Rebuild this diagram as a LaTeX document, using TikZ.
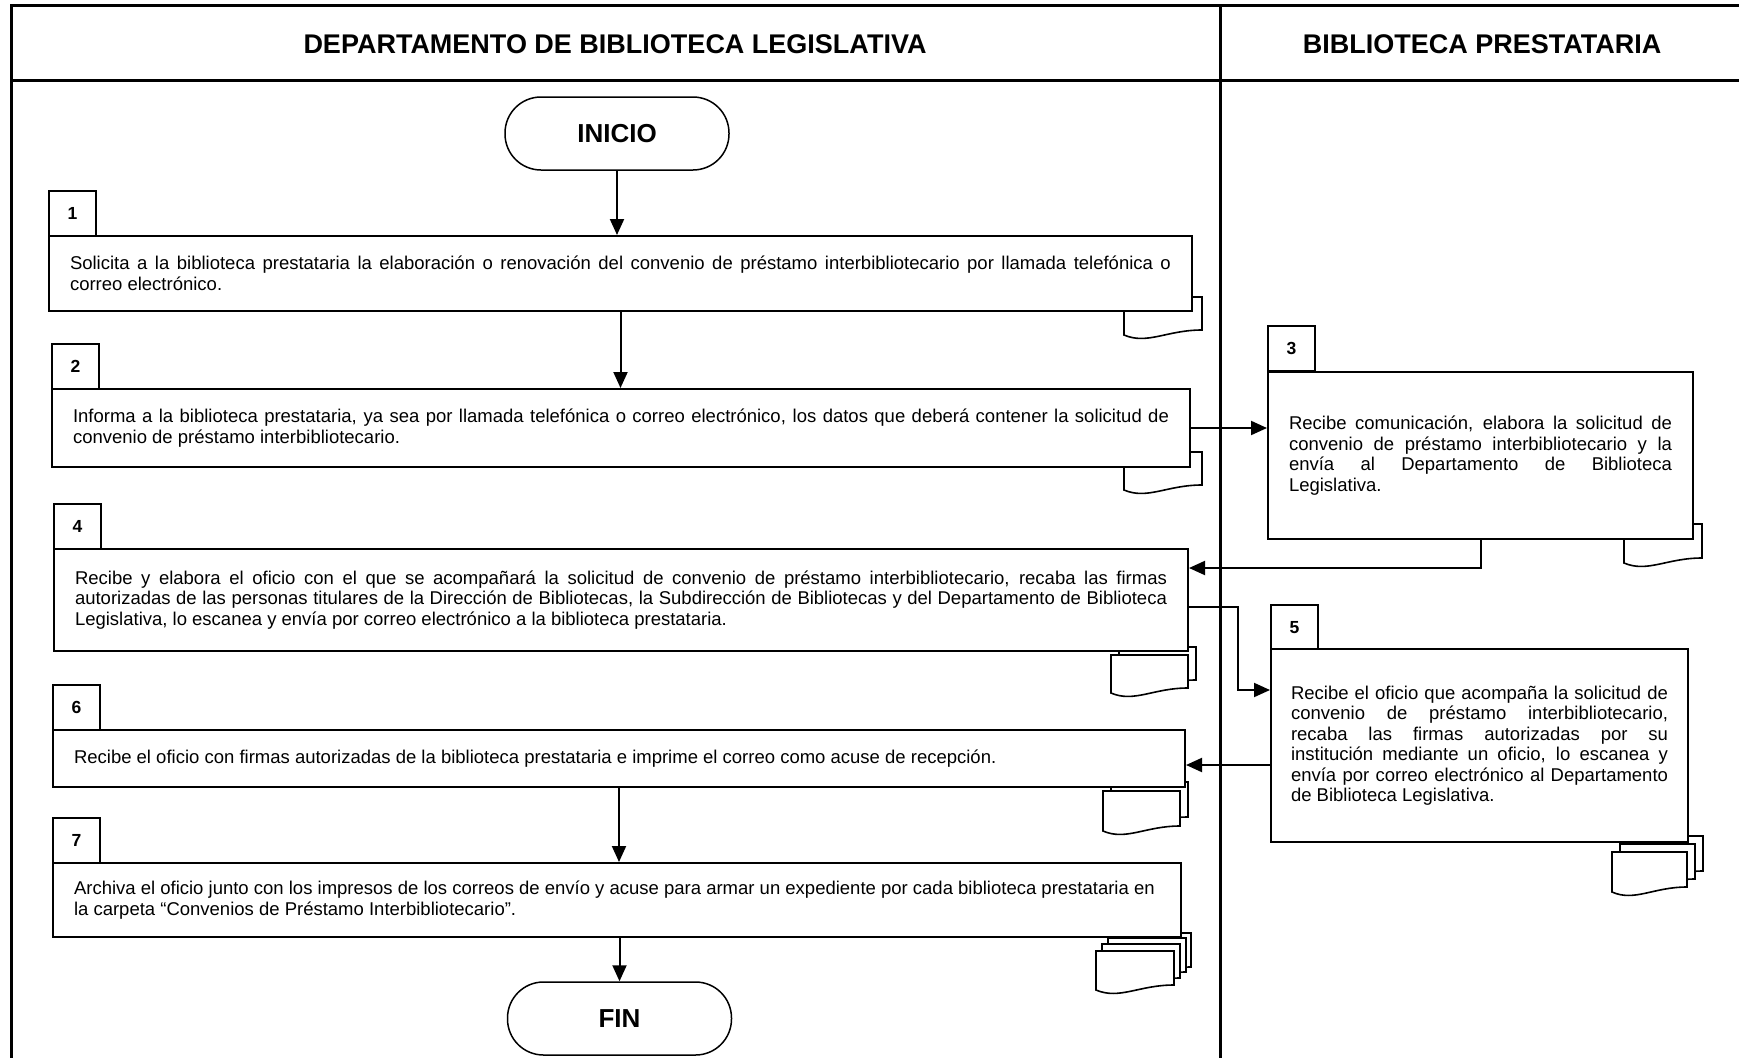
\documentclass[tikz,border=0pt]{standalone}
\usepackage{fontspec}
\setmainfont{Liberation Sans}
\usetikzlibrary{arrows.meta,calc}
\newcommand{\bodyfont}{\fontsize{18.5pt}{20.5pt}\selectfont\tolerance=9999\hyphenpenalty=10000\exhyphenpenalty=10000}
\newcommand{\mydoc}[4]{%
  \filldraw[docline] (#1,#2) -- ({#1+#3},#2) -- ({#1+#3},{#2+#4})
    .. controls ({#1+0.55*#3},{#2+#4}) and ({#1+0.3*#3},{#2+#4+15}) .. (#1,{#2+#4+5}) -- cycle;}
\begin{document}
\begin{tikzpicture}[x=1pt,y=-1pt,
  frameline/.style={line width=3pt},
  docline/.style={line width=1.6pt,fill=white,draw=black},
  mainbox/.style={draw,line width=2pt,fill=white,inner sep=0pt,anchor=north west},
  numbox/.style={draw,line width=2pt,fill=white,inner sep=0pt,anchor=north west,
    minimum width=47pt,minimum height=45pt,font=\bfseries\fontsize{17.5pt}{20pt}\selectfont},
  terminal/.style={draw,line width=1.5pt,fill=white,rounded corners=36pt,minimum width=224pt,
    minimum height=73pt,inner sep=0pt,font=\bfseries\fontsize{26pt}{30pt}\selectfont},
  hdr/.style={inner sep=0pt,font=\bfseries\fontsize{27pt}{31pt}\selectfont},
  arr/.style={line width=2pt,-{Triangle[length=16pt,width=14pt]}}]
\useasboundingbox (0,0) rectangle (1739,1057);
% frame
\draw[frameline] (11,1062) -- (11,6) -- (1745,6);
\draw[frameline] (11,80) -- (1745,80);
\draw[frameline] (1220,6) -- (1220,1062);
\node[hdr] (h1) at (615,44) {DEPARTAMENTO DE BIBLIOTECA LEGISLATIVA};
\node[hdr] (h2) at (1482,44) {BIBLIOTECA PRESTATARIA};
% documents
\mydoc{1124}{297}{78}{33}
\mydoc{1124}{452}{78}{33}
\mydoc{1624}{524}{78}{34}
\mydoc{1119}{647}{77}{33}
\mydoc{1111}{655}{77}{33}
\mydoc{1111}{782}{77}{35}
\mydoc{1103}{791}{77}{35}
\mydoc{1628}{836}{75}{35}
\mydoc{1620}{844}{75}{35}
\mydoc{1612}{852}{75}{35}
\mydoc{1113}{933}{78}{34}
\mydoc{1108}{938}{78}{34}
\mydoc{1102}{944}{78}{34}
\mydoc{1096}{951}{78}{34}
% terminals
\node[terminal] (ini) at (617,133.5) {INICIO};
\node[terminal] (fin) at (619.5,1018.5) {FIN};
% step 1
\node[numbox] (n1) at (48,190) {1};
\node[mainbox,minimum width=1143pt,minimum height=75pt] (b1) at (48,235)
 {\parbox{1101pt}{\bodyfont Solicita a la biblioteca prestataria la elaboración o renovación del convenio de préstamo interbibliotecario por llamada telefónica o\linebreak correo electrónico.}};
% step 2
\node[numbox] (n2) at (51,343) {2};
\node[mainbox,minimum width=1138pt,minimum height=78pt] (b2) at (51,388)
 {\parbox{1096pt}{\bodyfont Informa a la biblioteca prestataria, ya sea por llamada telefónica o correo electrónico, los datos que deberá contener la solicitud de\linebreak convenio de préstamo interbibliotecario.}};
% step 3
\node[numbox] (n3) at (1267,325) {3};
\node[mainbox,minimum width=425pt,minimum height=167pt] (b3) at (1267,371)
 {\parbox{383pt}{\bodyfont Recibe comunicación, elabora la solicitud de\linebreak convenio de préstamo interbibliotecario y la\linebreak envía al Departamento de Biblioteca\linebreak Legislativa.}};
% step 4
\node[numbox] (n4) at (53,503) {4};
\node[mainbox,minimum width=1134pt,minimum height=102pt] (b4) at (53,548)
 {\parbox{1092pt}{\bodyfont Recibe y elabora el oficio con el que se acompañará la solicitud de convenio de préstamo interbibliotecario, recaba las firmas\linebreak autorizadas de las personas titulares de la Dirección de Bibliotecas, la Subdirección de Bibliotecas y del Departamento de Biblioteca\linebreak Legislativa, lo escanea y envía por correo electrónico a la biblioteca prestataria.}};
% step 5
\node[numbox] (n5) at (1270,604) {5};
\node[mainbox,minimum width=417pt,minimum height=193pt] (b5) at (1270,648)
 {\parbox{377pt}{\bodyfont Recibe el oficio que acompaña la solicitud de\linebreak convenio de préstamo interbibliotecario,\linebreak recaba las firmas autorizadas por su\linebreak institución mediante un oficio, lo escanea y\linebreak envía por correo electrónico al Departamento\linebreak de Biblioteca Legislativa.}};
% step 6
\node[numbox] (n6) at (52,684) {6};
\node[mainbox,minimum width=1132pt,minimum height=57pt] (b6) at (52,729)
 {\parbox{1090pt}{\bodyfont\raggedright Recibe el oficio con firmas autorizadas de la biblioteca prestataria e imprime el correo como acuse de recepción.}};
% step 7
\node[numbox] (n7) at (52,817) {7};
\node[mainbox,minimum width=1128pt,minimum height=74pt] (b7) at (52,862)
 {\parbox{1086pt}{\bodyfont\raggedright Archiva el oficio junto con los impresos de los correos de envío y acuse para armar un expediente por cada biblioteca prestataria en\\ la carpeta “Convenios de Préstamo Interbibliotecario”.}};
% connectors
\draw[arr] (ini.south) -- (ini.south |- b1.north);
\draw[arr] (b1.south) -- (b1.south |- b2.north);
\draw[arr] (b2.east) -- (b2.east -| b3.west);
\draw[arr] (b3.south) |- ([yshift=-20pt]b4.north east);
\draw[arr] ([yshift=-59pt]b4.north east) -- ++(49,0) |- ([yshift=-42pt]b5.north west);
\draw[arr] ([yshift=-117pt]b5.north west) coordinate (s56) -- (s56 -| b6.east);
\draw[arr] (b6.south) -- (b6.south |- b7.north);
\draw[arr] (fin.north |- b7.south) -- (fin.north);
\end{tikzpicture}
\end{document}
